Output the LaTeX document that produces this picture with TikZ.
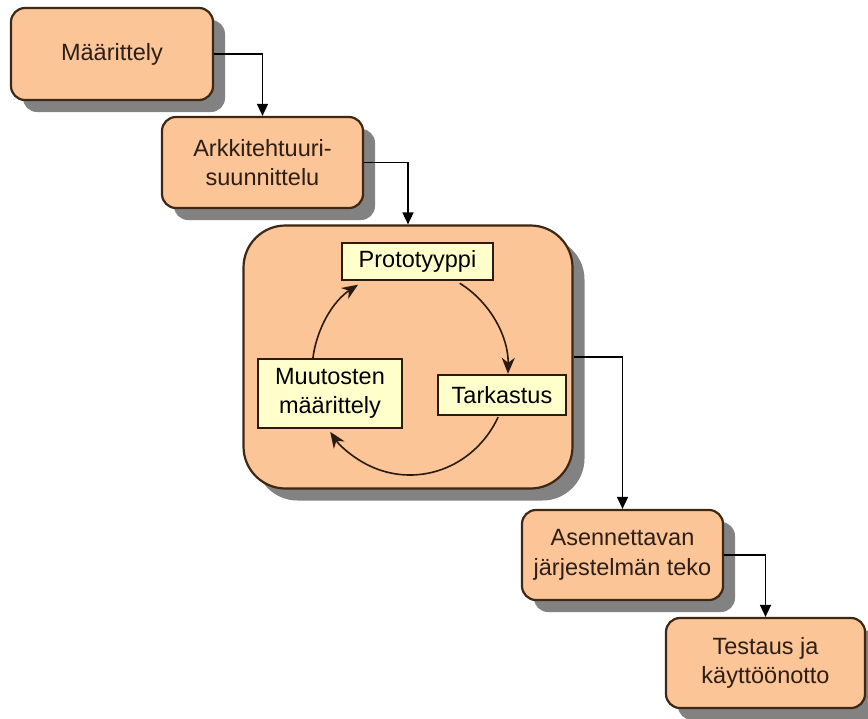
\documentclass[tikz,border=0pt]{standalone}
\usepackage{fontspec}
\setmainfont{Liberation Sans}
\usetikzlibrary{shadows,arrows.meta,calc}
\definecolor{boxfill}{HTML}{FBC597}
\definecolor{boxline}{HTML}{3C2814}
\definecolor{notefill}{HTML}{FFFFCC}
\definecolor{textcol}{HTML}{2E1E16}
\definecolor{shadowgray}{HTML}{828282}
\definecolor{ringcol}{HTML}{2A1A10}

\begin{document}
\begin{tikzpicture}[x=1pt,y=1pt,
  phase/.style={draw=boxline, line width=2.2pt, fill=boxfill,
    rounded corners=14pt, align=center, text=textcol, inner sep=0pt,
    font=\fontsize{23.5}{29.5}\selectfont,
    drop shadow={shadow xshift=12pt, shadow yshift=-12pt,
      fill=shadowgray, opacity=1}},
  note/.style={draw=ringcol, line width=1.7pt, fill=notefill,
    align=center, text=black, inner sep=0pt,
    font=\fontsize{23.5}{28.5}\selectfont},
  flow/.style={draw=black, line width=1.6pt,
    -{Triangle[length=12pt,width=11pt]}},
  ring/.style={draw=ringcol, line width=1.6pt,
    -{Stealth[length=16pt,width=13pt,inset=5pt]}}
]
\useasboundingbox (0,0) rectangle (868,-718);

% main phases
\node[phase, minimum width=202pt, minimum height=92pt] (b1) at (112,-54) {Määrittely};
\node[phase, minimum width=201pt, minimum height=91pt] (b2) at (262.5,-162.5) {Arkkitehtuuri-\\suunnittelu};
\node[phase, minimum width=329pt, minimum height=263pt, rounded corners=42pt] (big) at (408,-357) {};
\node[phase, minimum width=201pt, minimum height=90pt] (b4) at (622.5,-555) {Asennettavan\\järjestelmän teko};
\node[phase, minimum width=199pt, minimum height=90pt] (b5) at (765.5,-663) {Testaus ja\\käyttöönotto};

% prototyping cycle
\node[note, minimum width=151pt, minimum height=37pt] (proto) at (417.5,-261.5) {Prototyyppi};
\node[note, minimum width=128pt, minimum height=40pt] (tark) at (502,-395) {Tarkastus};
\node[note, minimum width=144pt, minimum height=69pt] (muut) at (330,-393.5) {Muutosten\\määrittely};

\coordinate (cyc) at (410,-372);
\draw[ring] ($(cyc)+(59.5:98 and 103)$) arc[start angle=59.5, end angle=-1, x radius=98, y radius=103];
\draw[ring] ($(cyc)+(-26:98 and 103)$) arc[start angle=-26, end angle=-144.5, x radius=98, y radius=103];
\draw[ring] ($(cyc)+(172.7:98 and 103)$) arc[start angle=172.7, end angle=122, x radius=98, y radius=103];

% phase transitions
\draw[flow] (b1) -| (b2);
\draw[flow] (b2) -| (big);
\draw[flow] (big) -| (b4);
\draw[flow] (b4) -| (b5);
\end{tikzpicture}
\end{document}
